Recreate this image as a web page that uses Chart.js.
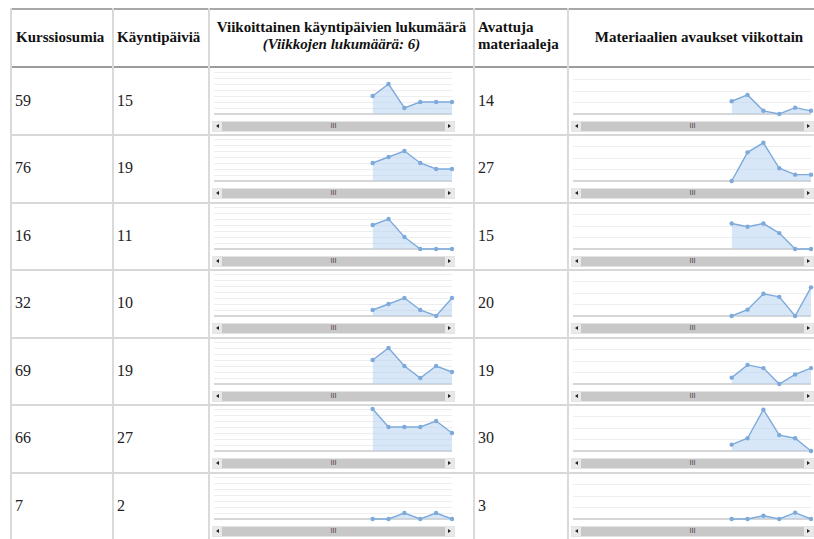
<!DOCTYPE html>
<html>
<head>
<meta charset="utf-8">
<script src="https://cdn.jsdelivr.net/npm/chart.js@4.4.1/dist/chart.umd.min.js"></script>
<style>
body { margin: 0; background: #fff; font-family: "Liberation Serif", "Times New Roman", serif; color: #111; }
#wrap { position: relative; width: 814px; height: 539px; overflow: hidden; }
.hl, .vl { position: absolute; background: #d4d4d4; }
.cell { position: absolute; font-size: 16px; line-height: 18px; color: #222; }
.hd { position: absolute; font-weight: bold; font-size: 15px; line-height: 17px; color: #111; }
.spark { position: absolute; }
.bar { position: absolute; height: 9px; background: #c8c8c8; border: 1px solid #e4e4e4; }
.arr { position: absolute; top: 0; width: 9px; height: 9px; background: #e9e9e9; }
.arr.l { left: 0; } .arr.r { right: 0; }
.arr i { position: absolute; top: 2px; width: 0; height: 0; border-top: 2.5px solid transparent; border-bottom: 2.5px solid transparent; }
.arr.l i { left: 3px; border-right: 3px solid #222; }
.arr.r i { left: 3px; border-left: 3px solid #222; }
.grip { position: absolute; left: 50%; top: 0; transform: translateX(-50%); font: 7px/9px "DejaVu Sans", sans-serif; color: #444; }
</style>
</head>
<body>
<div id="wrap"></div>
<script>
// taulukon sarakkeet
const hits = [59, 76, 16, 32, 69, 66, 7];
const visitDays = [15, 19, 11, 10, 19, 27, 2];
const openedMaterials = [14, 27, 15, 20, 19, 30, 3];

// viikot (6 viikkoa, kaavion oikeassa reunassa)
const weekNumbers = [1, 2, 3, 4, 5, 6];

// viikoittaiset käyntipäivät
const weeklyVisits = [
    [3, 5, 1, 2, 2, 2],
    [3, 4, 5, 3, 2, 2],
    [4, 5, 2, 0, 0, 0],
    [1, 2, 3, 1, 0, 3],
    [4, 6, 3, 1, 3, 2],
    [7, 4, 4, 4, 5, 3],
    [0, 0, 1, 0, 1, 0]
];

// materiaalien avaukset viikoittain
const weeklyOpens = [
    [4, 6, 1, 0, 2, 1],
    [0, 9, 12, 4, 2, 2],
    [8, 7, 8, 5, 0, 0],
    [0, 2, 7, 6, 0, 9],
    [2, 6, 5, 0, 3, 5],
    [2, 4, 13, 5, 4, 0],
    [0, 0, 1, 0, 2, 0]
];

// akselit
const visitTicks = [0, 1, 2, 3, 4, 5, 6, 7];
const openTicks = [0, 3.6, 7.2, 10.8];
const visitMax = 7;
const openMax = 13.2;
const xMin = -9, xMax = 6;

const wrap = document.getElementById('wrap');
const ROW_TOP = 67.5, ROW_H = 67.5;

function el(cls, css, html) {
    const d = document.createElement('div');
    d.className = cls;
    Object.assign(d.style, css);
    if (html) d.innerHTML = html;
    wrap.appendChild(d);
    return d;
}

// viivat
el('hl', { left: '10px', top: '8px', width: '804px', height: '2px', background: '#a8a8a8' });
el('hl', { left: '10px', top: '66px', width: '804px', height: '2px', background: '#9c9c9c' });
for (let i = 1; i < hits.length; i++) {
    el('hl', { left: '10px', top: (ROW_TOP + i * ROW_H - 1) + 'px', width: '804px', height: '2px', background: '#d8d8d8' });
}
[10, 112, 208, 473, 567].forEach(x => {
    el('vl', { left: x + 'px', top: '8px', width: '2px', height: '531px', background: '#dadada' });
});

// otsikot
el('hd', { left: '16px', top: '29px' }, 'Kurssiosumia');
el('hd', { left: '117px', top: '29px' }, 'Käyntipäiviä');
el('hd', { left: '210px', width: '263px', top: '19px', textAlign: 'center' },
   'Viikoittainen käyntipäivien lukumäärä<br><i>(Viikkojen lukumäärä: 6)</i>');
el('hd', { left: '478px', top: '19px' }, 'Avattuja<br>materiaaleja');
el('hd', { left: '569px', width: '260px', top: '29px', textAlign: 'center' }, 'Materiaalien avaukset viikottain');

function scrollbar(left, top, width) {
    const b = el('bar', { left: left + 'px', top: top + 'px', width: width + 'px' });
    b.innerHTML = '<div class="arr l"><i></i></div><div class="grip">III</div><div class="arr r"><i></i></div>';
}

function spark(left, top, values, max, ticks) {
    const c = document.createElement('canvas');
    c.className = 'spark';
    c.width = 246; c.height = 50;
    c.style.left = left + 'px';
    c.style.top = top + 'px';
    wrap.appendChild(c);
    new Chart(c.getContext('2d'), {
        type: 'line',
        data: {
            datasets: [{
                data: weekNumbers.map((w, i) => ({ x: w, y: values[i] })),
                borderColor: '#7eaadb',
                backgroundColor: 'rgba(184, 211, 240, 0.55)',
                borderWidth: 1.4,
                pointRadius: 2.2,
                pointBackgroundColor: '#7eaadb',
                pointBorderWidth: 0,
                fill: 'origin',
                tension: 0,
                clip: false
            }]
        },
        options: {
            responsive: false,
            animation: false,
            devicePixelRatio: 1,
            layout: { padding: { left: 3, right: 3, top: 4, bottom: 2 } },
            plugins: { legend: { display: false }, tooltip: { enabled: false } },
            scales: {
                x: { type: 'linear', min: xMin, max: xMax, display: false },
                y: {
                    min: 0, max: max,
                    afterBuildTicks: axis => { axis.ticks = ticks.map(v => ({ value: v })); },
                    ticks: { display: false },
                    border: { display: false },
                    grid: {
                        drawTicks: false,
                        color: ctx => ctx.tick && ctx.tick.value === 0 ? '#d6d6d6' : '#eeeeee',
                        lineWidth: ctx => ctx.tick && ctx.tick.value === 0 ? 2 : 1
                    }
                }
            }
        }
    });
}

hits.forEach((h, i) => {
    const T = ROW_TOP + i * ROW_H;
    el('cell', { left: '15px', top: (T + 24) + 'px' }, String(h));
    el('cell', { left: '117px', top: (T + 24) + 'px' }, String(visitDays[i]));
    el('cell', { left: '478px', top: (T + 24) + 'px' }, String(openedMaterials[i]));
    spark(210, T + 0.2, weeklyVisits[i], visitMax, visitTicks);
    spark(569, T + 0.2, weeklyOpens[i], openMax, openTicks);
    scrollbar(212, T + 53, 241);
    scrollbar(571, T + 53, 241);
});
</script>
</body>
</html>
